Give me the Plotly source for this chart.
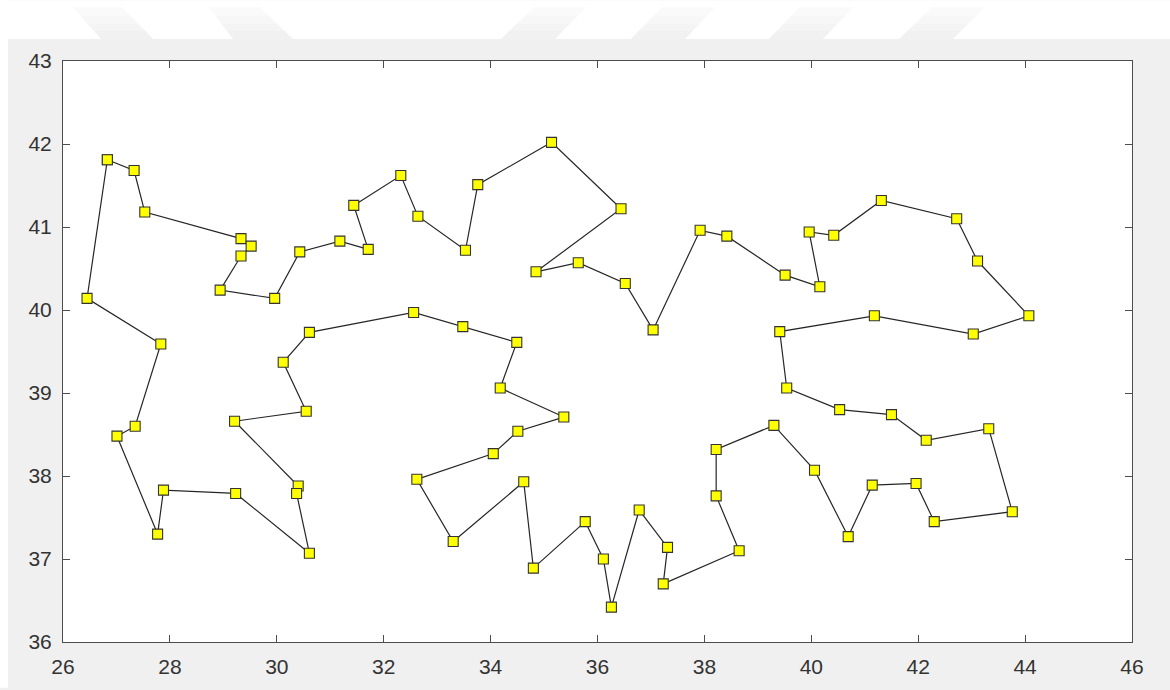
import plotly.graph_objects as go

# Tour through the city coordinates (longitude, latitude), visited in order
x_coords = [
    26.83, 27.33, 27.53, 29.33, 29.52, 29.33, 28.94, 29.96, 30.43, 31.18,
    31.71, 31.44, 32.32, 32.64, 33.53, 33.76, 35.14, 36.44, 34.85, 35.64,
    36.52, 37.04, 37.92, 38.42, 39.51, 40.16, 39.96, 40.42, 41.31, 42.72,
    43.11, 44.07, 43.03, 41.18, 39.41, 39.54, 40.53, 41.50, 42.15, 43.32,
    43.76, 42.30, 41.96, 41.14, 40.69, 40.06, 39.30, 38.22, 38.22, 38.65,
    37.23, 37.31, 36.78, 36.26, 36.11, 35.77, 34.80, 34.62, 33.30, 32.62,
    34.05, 34.51, 35.37, 34.18, 34.49, 33.48, 32.56, 30.61, 30.12, 30.55,
    29.21, 30.40, 30.37, 30.61, 29.23, 27.88, 27.77, 27.01, 27.35, 27.83,
    26.45,
]
y_coords = [
    41.81, 41.68, 41.18, 40.86, 40.77, 40.65, 40.24, 40.14, 40.70, 40.83,
    40.73, 41.26, 41.62, 41.13, 40.72, 41.51, 42.02, 41.22, 40.46, 40.57,
    40.32, 39.76, 40.96, 40.89, 40.42, 40.28, 40.94, 40.90, 41.32, 41.10,
    40.59, 39.93, 39.71, 39.93, 39.74, 39.06, 38.80, 38.74, 38.43, 38.57,
    37.57, 37.45, 37.91, 37.89, 37.27, 38.07, 38.61, 38.32, 37.76, 37.10,
    36.70, 37.14, 37.59, 36.42, 37.00, 37.45, 36.89, 37.93, 37.21, 37.96,
    38.27, 38.54, 38.71, 39.06, 39.61, 39.80, 39.97, 39.73, 39.37, 38.78,
    38.66, 37.88, 37.79, 37.07, 37.79, 37.83, 37.30, 38.48, 38.60, 39.59,
    40.14,
]

x_ticks = [26, 28, 30, 32, 34, 36, 38, 40, 42, 44, 46]
y_ticks = [36, 37, 38, 39, 40, 41, 42, 43]

# Close the loop back to the starting city
tour_x = x_coords + x_coords[:1]
tour_y = y_coords + y_coords[:1]

W, H = 1170, 690
ML, MR, MT, MB = 63, 38, 61, 46
PW, PH = W - ML - MR, H - MT - MB


def px(p):
    return (p - ML) / PW


def py(p):
    return (H - MB - p) / PH


fig = go.Figure()
fig.add_trace(go.Scatter(
    x=tour_x, y=tour_y,
    mode="lines+markers",
    line=dict(color="#262626", width=1.2),
    marker=dict(symbol="square", size=10, color="#ffff00",
                line=dict(color="#333333", width=1.1)),
    hoverinfo="x+y",
    showlegend=False,
))

shapes = [
    # white strip across the top and down the left edge of the figure
    dict(type="rect", xref="paper", yref="paper", layer="below",
         x0=px(0), x1=px(W), y0=py(39), y1=py(0),
         fillcolor="white", line=dict(width=0)),
    dict(type="rect", xref="paper", yref="paper", layer="below",
         x0=px(0), x1=px(8), y0=py(H), y1=py(0),
         fillcolor="white", line=dict(width=0)),
]

# faint slanted bands in the top strip, fading out towards the top
bands = [
    ((73, 122), (101, 153)),
    ((209, 260), (233, 293)),
    ((534, 586), (501, 555)),
    ((662, 715), (631, 685)),
    ((800, 853), (769, 823)),
    ((932, 985), (899, 953)),
]
band_top, band_bot = 7, 39
fade = ["#fafafa", "#f7f7f7", "#f4f4f4", "#f1f1f1"]
n = len(fade)
for (t0, t1), (b0, b1) in bands:
    for i, col in enumerate(fade):
        f0, f1 = i / n, (i + 1) / n
        ya, yb = band_top + f0 * (band_bot - band_top), band_top + f1 * (band_bot - band_top)
        la, ra = t0 + f0 * (b0 - t0), t1 + f0 * (b1 - t1)
        lb, rb = t0 + f1 * (b0 - t0), t1 + f1 * (b1 - t1)
        path = (f"M{px(la)},{py(ya)} L{px(ra)},{py(ya)} "
                f"L{px(rb)},{py(yb)} L{px(lb)},{py(yb)} Z")
        shapes.append(dict(type="path", xref="paper", yref="paper",
                           layer="below", path=path,
                           fillcolor=col, line=dict(width=0)))

axis_common = dict(
    showgrid=False, zeroline=False,
    showline=True, linecolor="#4d4d4d", linewidth=1, mirror="ticks",
    ticks="inside", ticklen=7, tickcolor="#4d4d4d", tickwidth=1,
    tickfont=dict(family="Liberation Sans, Arial, sans-serif",
                  size=21, color="#333333"),
)

fig.update_xaxes(range=[26, 46], tickvals=x_ticks, ticktext=[str(v) for v in x_ticks],
                 ticklabelstandoff=6, **axis_common)
fig.update_yaxes(range=[36, 43], tickvals=y_ticks, ticktext=[str(v) for v in y_ticks],
                 ticklabelstandoff=6, **axis_common)

fig.update_layout(
    width=W, height=H,
    margin=dict(l=ML, r=MR, t=MT, b=MB),
    paper_bgcolor="#f0f0f0",
    plot_bgcolor="white",
    shapes=shapes,
)

fig.write_html("out.html", config={"displayModeBar": False})
